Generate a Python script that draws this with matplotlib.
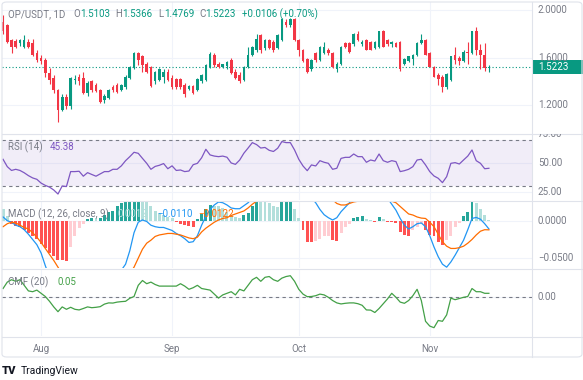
import numpy as np
import pandas as pd
import matplotlib
matplotlib.use('Agg')
import matplotlib.pyplot as plt
import matplotlib.dates as mdates
from matplotlib.patches import Rectangle, FancyBboxPatch
from matplotlib.lines import Line2D
from matplotlib.transforms import blended_transform_factory, Bbox, TransformedBbox

plt.rcParams['font.family'] = ['Roboto', 'DejaVu Sans']

# daily candles OP/USDT, 2024-07-23 .. 2024-11-15
dates = pd.date_range('2024-07-23', '2024-11-15', freq='D')
opens = [1.90, 1.87, 1.75, 1.74, 1.72, 1.69, 1.73, 1.72, 1.64, 1.60,
         1.58, 1.47, 1.43, 1.33, 1.16, 1.27, 1.19, 1.41, 1.44, 1.43,
         1.30, 1.40, 1.37, 1.33, 1.24, 1.26, 1.35, 1.37, 1.33, 1.35,
         1.43, 1.51, 1.64, 1.61, 1.55, 1.52, 1.40, 1.41, 1.44, 1.48,
         1.43, 1.42, 1.42, 1.37, 1.34, 1.36, 1.33, 1.40, 1.41, 1.52,
         1.62, 1.55, 1.52, 1.53, 1.58, 1.48, 1.45, 1.41, 1.52, 1.62,
         1.66, 1.79, 1.68, 1.75, 1.73, 1.68, 1.75, 1.90, 1.87, 1.92,
         1.75, 1.66, 1.59, 1.50, 1.64, 1.58, 1.64, 1.66, 1.64, 1.50,
         1.55, 1.72, 1.72, 1.71, 1.80, 1.71, 1.75, 1.73, 1.68, 1.69,
         1.82, 1.75, 1.71, 1.72, 1.73, 1.55, 1.57, 1.59, 1.62, 1.72,
         1.75, 1.64, 1.52, 1.45, 1.44, 1.35, 1.41, 1.62, 1.60, 1.57,
         1.65, 1.64, 1.82, 1.66, 1.62, 1.5103]
highs = [1.96, 1.88, 1.76, 1.76, 1.76, 1.79, 1.76, 1.76, 1.66, 1.62,
         1.60, 1.51, 1.45, 1.34, 1.29, 1.29, 1.44, 1.45, 1.46, 1.48,
         1.40, 1.41, 1.39, 1.34, 1.29, 1.34, 1.37, 1.39, 1.38, 1.45,
         1.53, 1.65, 1.65, 1.62, 1.56, 1.53, 1.49, 1.51, 1.50, 1.50,
         1.45, 1.43, 1.43, 1.39, 1.37, 1.37, 1.43, 1.46, 1.55, 1.65,
         1.64, 1.56, 1.55, 1.57, 1.60, 1.50, 1.48, 1.53, 1.69, 1.70,
         1.80, 1.80, 1.76, 1.76, 1.75, 1.80, 1.93, 1.92, 1.93, 1.93,
         1.76, 1.67, 1.60, 1.59, 1.65, 1.70, 1.73, 1.68, 1.65, 1.56,
         1.70, 1.73, 1.73, 1.81, 1.82, 1.75, 1.76, 1.74, 1.74, 1.82,
         1.83, 1.76, 1.74, 1.73, 1.74, 1.60, 1.61, 1.63, 1.73, 1.80,
         1.76, 1.65, 1.53, 1.47, 1.45, 1.47, 1.61, 1.69, 1.61, 1.66,
         1.73, 1.82, 1.86, 1.71, 1.72, 1.5366]
lows = [1.80, 1.72, 1.64, 1.68, 1.70, 1.68, 1.68, 1.61, 1.56, 1.55,
        1.44, 1.38, 1.30, 1.06, 1.15, 1.17, 1.17, 1.38, 1.37, 1.29,
        1.28, 1.31, 1.31, 1.22, 1.22, 1.25, 1.31, 1.30, 1.32, 1.34,
        1.42, 1.50, 1.54, 1.48, 1.47, 1.35, 1.38, 1.40, 1.39, 1.40,
        1.34, 1.34, 1.34, 1.27, 1.33, 1.29, 1.32, 1.39, 1.40, 1.51,
        1.52, 1.51, 1.51, 1.50, 1.46, 1.42, 1.39, 1.40, 1.51, 1.61,
        1.65, 1.64, 1.66, 1.67, 1.65, 1.67, 1.74, 1.86, 1.86, 1.74,
        1.61, 1.56, 1.47, 1.49, 1.56, 1.57, 1.63, 1.62, 1.51, 1.48,
        1.54, 1.68, 1.64, 1.70, 1.74, 1.70, 1.66, 1.66, 1.67, 1.68,
        1.69, 1.70, 1.69, 1.69, 1.49, 1.54, 1.56, 1.54, 1.61, 1.71,
        1.62, 1.52, 1.44, 1.37, 1.31, 1.34, 1.40, 1.55, 1.54, 1.56,
        1.55, 1.63, 1.62, 1.50, 1.49, 1.4769]
closes = [1.82, 1.73, 1.69, 1.69, 1.75, 1.75, 1.69, 1.62, 1.58, 1.57,
          1.47, 1.41, 1.33, 1.16, 1.27, 1.19, 1.43, 1.42, 1.40, 1.30,
          1.385, 1.33, 1.32, 1.23, 1.28, 1.33, 1.33, 1.31, 1.37, 1.44,
          1.52, 1.64, 1.58, 1.54, 1.48, 1.36, 1.48, 1.50, 1.48, 1.41,
          1.35, 1.35, 1.35, 1.29, 1.36, 1.30, 1.42, 1.45, 1.54, 1.63,
          1.54, 1.52, 1.545, 1.56, 1.47, 1.43, 1.40, 1.52, 1.62, 1.69,
          1.76, 1.66, 1.75, 1.68, 1.66, 1.79, 1.92, 1.87, 1.92, 1.75,
          1.66, 1.57, 1.48, 1.58, 1.58, 1.69, 1.69, 1.64, 1.52, 1.55,
          1.69, 1.69, 1.65, 1.80, 1.75, 1.73, 1.66, 1.66, 1.73, 1.82,
          1.69, 1.71, 1.73, 1.69, 1.50, 1.59, 1.61, 1.62, 1.72, 1.75,
          1.62, 1.52, 1.44, 1.42, 1.35, 1.46, 1.61, 1.58, 1.57, 1.65,
          1.64, 1.82, 1.66, 1.62, 1.5103, 1.5223]

rsi = [53.2, 46.8, 43.5, 44.5, 43.5, 41.5, 39.0, 37.0, 35.8, 32.5,
       30.5, 29.0, 26.5, 23.0, 30.0, 29.5, 42.5, 42.5, 42.8, 38.5,
       41.6, 40.0, 38.5, 40.5, 42.5, 42.5, 44.5, 44.5, 47.5, 52.0,
       55.5, 59.3, 58.4, 54.0, 49.7, 44.5, 47.0, 48.0, 49.5, 45.0,
       47.5, 43.5, 43.9, 42.5, 43.0, 48.5, 49.7, 54.5, 61.9, 57.0,
       56.0, 55.5, 56.0, 55.0, 50.0, 48.8, 52.5, 58.5, 63.0, 67.7,
       66.0, 63.0, 63.5, 61.0, 60.0, 62.8, 68.6, 67.7, 67.7, 61.3,
       53.2, 47.4, 43.3, 48.3, 47.4, 52.0, 50.6, 49.7, 44.5, 45.4,
       54.0, 54.9, 54.9, 57.8, 55.5, 55.5, 50.6, 52.6, 51.7, 57.8,
       52.0, 50.6, 52.0, 51.2, 42.5, 43.3, 44.5, 46.8, 52.6, 53.2,
       48.3, 42.5, 38.7, 36.7, 32.9, 38.1, 49.7, 50.3, 49.1, 52.6,
       56.0, 61.3, 52.0, 49.7, 45.0, 45.38]

macd = [0.005, 0.000, -0.002, -0.006, -0.008, -0.012, -0.018, -0.025, -0.032, -0.043,
        -0.060, -0.075, -0.090, -0.110, -0.118, -0.125, -0.120, -0.112, -0.104, -0.100,
        -0.094, -0.090, -0.088, -0.088, -0.084, -0.078, -0.074, -0.068, -0.066, -0.058,
        -0.040, -0.016, -0.002, 0.001, -0.001, -0.006, -0.008, -0.009, -0.009, -0.011,
        -0.013, -0.017, -0.020, -0.024, -0.029, -0.028, -0.020, -0.006, 0.006, 0.015,
        0.021, 0.025, 0.024, 0.021, 0.017, 0.016, 0.016, 0.020, 0.024, 0.030,
        0.038, 0.042, 0.045, 0.047, 0.047, 0.050, 0.060, 0.066, 0.072, 0.068,
        0.058, 0.046, 0.034, 0.030, 0.024, 0.015, 0.008, 0.004, 0.001, 0.004,
        0.012, 0.018, 0.024, 0.029, 0.032, 0.034, 0.034, 0.033, 0.033, 0.036,
        0.035, 0.030, 0.022, 0.014, 0.003, -0.006, -0.011, -0.008, -0.004, -0.003,
        -0.008, -0.020, -0.035, -0.048, -0.058, -0.062, -0.055, -0.046, -0.036, -0.026,
        -0.012, 0.003, 0.0044, 0.002, -0.004, -0.011]
signal = [-0.008, -0.004, -0.002, -0.003, -0.006, -0.009, -0.011, -0.016, -0.022, -0.029,
          -0.037, -0.045, -0.053, -0.062, -0.071, -0.079, -0.085, -0.089, -0.092, -0.094,
          -0.094, -0.094, -0.093, -0.092, -0.091, -0.089, -0.086, -0.083, -0.080, -0.076,
          -0.070, -0.062, -0.050, -0.038, -0.030, -0.026, -0.021, -0.019, -0.018, -0.017,
          -0.017, -0.018, -0.019, -0.021, -0.023, -0.024, -0.022, -0.015, -0.010, -0.006,
          -0.002, 0.001, 0.003, 0.004, 0.007, 0.009, 0.011, 0.013, 0.017, 0.022,
          0.026, 0.031, 0.035, 0.038, 0.041, 0.043, 0.046, 0.050, 0.054, 0.056,
          0.057, 0.056, 0.053, 0.049, 0.045, 0.040, 0.036, 0.032, 0.028, 0.023,
          0.021, 0.021, 0.023, 0.025, 0.026, 0.027, 0.028, 0.028, 0.028, 0.028,
          0.028, 0.027, 0.026, 0.024, 0.019, 0.014, 0.009, 0.0076, 0.005, 0.0035,
          0.003, -0.002, -0.008, -0.018, -0.028, -0.034, -0.037, -0.037, -0.036, -0.034,
          -0.030, -0.025, -0.019, -0.014, -0.012, -0.0122]
hist = [0.015, 0.006, -0.004, -0.007, -0.009, -0.012, -0.016, -0.020, -0.025, -0.031,
        -0.037, -0.043, -0.047, -0.052, -0.053, -0.054, -0.035, -0.021, -0.010, -0.004,
        0.002, 0.004, 0.003, 0.004, 0.008, 0.011, 0.013, 0.019, 0.023, 0.030,
        0.036, 0.046, 0.048, 0.039, 0.029, 0.020, 0.013, 0.010, 0.008, 0.005,
        0.003, -0.002, -0.004, -0.006, -0.007, -0.008, 0.002, 0.009, 0.016, 0.021,
        0.020, 0.019, 0.017, 0.012, 0.008, 0.005, 0.004, 0.007, 0.010, 0.019,
        0.027, 0.026, 0.025, 0.023, 0.020, 0.018, 0.028, 0.029, 0.031, 0.016,
        0.003, -0.013, -0.028, -0.029, -0.027, -0.024, -0.021, -0.020, -0.026, -0.027,
        -0.017, -0.008, -0.004, 0.003, 0.0045, 0.006, 0.002, 0.001, -0.0013, 0.005,
        0.002, -0.0013, -0.002, -0.003, -0.015, -0.019, -0.021, -0.012, -0.008, -0.004,
        -0.012, -0.019, -0.021, -0.028, -0.033, -0.026, -0.021, -0.008, -0.003, 0.006,
        0.012, 0.027, 0.024, 0.016, 0.0076, 0.0012]

cmf = [0.11, 0.19, 0.22, 0.20, 0.22, 0.15, 0.08, 0.07, 0.09, 0.05,
       0.01, -0.05, -0.12, -0.18, -0.12, -0.15, -0.125, -0.15, -0.158, -0.14,
       -0.12, -0.13, -0.125, -0.117, -0.085, -0.07, -0.072, -0.06, -0.054, -0.05,
       -0.012, 0.01, 0.15, 0.21, 0.17, 0.19, 0.16, 0.14, 0.14, 0.14,
       0.14, 0.14, 0.17, 0.14, 0.10, 0.12, 0.15, 0.11, 0.10, 0.09,
       0.04, -0.01, 0.03, 0.05, 0.07, 0.03, 0.10, 0.08, 0.15, 0.22,
       0.25, 0.20, 0.25, 0.26, 0.22, 0.20, 0.24, 0.26, 0.27, 0.20,
       0.10, 0.04, 0.008, 0.01, 0.02, 0.04, 0.03, 0.00, -0.04, -0.07,
       -0.083, -0.075, -0.07, -0.07, -0.08, -0.10, -0.158, -0.16, -0.19, -0.14,
       -0.08, -0.02, 0.05, 0.00, -0.06, -0.075, -0.04, 0.02, 0.10, -0.04,
       -0.30, -0.36, -0.38, -0.29, -0.30, -0.22, -0.01, -0.03, -0.015, 0.00,
       0.01, 0.11, 0.07, 0.07, 0.05, 0.05]

price_ticks = [1.2, 1.6, 2.0]
rsi_ticks = [25, 50, 75]
macd_ticks = [-0.05, 0.0]
cmf_ticks = [0.0]

GREEN, RED = '#089981', '#f23645'
GRID, SEP, TXT = '#f0f3fa', '#e0e3eb', '#787b86'

W, H = 583, 380
fig = plt.figure(figsize=(W / 100, H / 100), dpi=100)


def rect(x0, y0, x1, y1):
    return [x0 / W, 1 - y1 / H, (x1 - x0) / W, (y1 - y0) / H]


ax_p = fig.add_axes(rect(2, 2, 532, 133))
ax_r = fig.add_axes(rect(2, 134, 532, 200), sharex=ax_p)
ax_m = fig.add_axes(rect(2, 201, 532, 268), sharex=ax_p)
ax_c = fig.add_axes(rect(2, 269, 532, 336), sharex=ax_p)

x = mdates.date2num(dates)
o, h, l, c = map(np.array, (opens, highs, lows, closes))
up = c >= o
col = np.where(up, GREEN, RED)

# candles
ax_p.vlines(x, l, h, colors=col, lw=0.8, zorder=3)
body = np.maximum(np.abs(c - o), 0.004)
ax_p.bar(x, body, bottom=np.minimum(o, c), width=0.62, color=col, zorder=4)
ax_p.axhline(c[-1], color=GREEN, lw=0.8, ls=(0, (1, 2)), zorder=2)
ax_p.set_ylim(0.966, 2.067)
ax_p.set_yticks(price_ticks)

# RSI
ax_r.axhspan(30, 70, color='#7e57c2', alpha=0.1, lw=0)
for lev in (30, 70):
    ax_r.axhline(lev, color=TXT, lw=0.8, ls=(0, (3, 3)))
ax_r.plot(x, rsi, color='#7e57c2', lw=0.9)
ax_r.set_ylim(17.8, 75.2)
ax_r.set_yticks(rsi_ticks)

# MACD
hv = np.array(hist)
prev = np.concatenate([[hv[0] + 0.001], hv[:-1]])
hcol = np.where(hv >= 0, np.where(hv > prev, '#26a69a', '#b2dfdb'),
                np.where(hv < prev, '#ff5252', '#ffcdd2'))
ax_m.bar(x, hv, width=0.7, color=hcol, zorder=2)
ax_m.plot(x, macd, color='#2196f3', lw=0.9, zorder=3)
ax_m.plot(x, signal, color='#ff6d00', lw=0.9, zorder=3)
ax_m.set_ylim(-0.0631, 0.0263)
ax_m.set_yticks(macd_ticks)

# CMF
ax_c.axhline(0, color=TXT, lw=0.8, ls=(0, (3, 3)))
ax_c.plot(x, cmf, color='#43a047', lw=0.9)
ax_c.set_ylim(-0.484, 0.354)
ax_c.set_yticks(cmf_ticks)

for ax in (ax_p, ax_r, ax_m, ax_c):
    for s in ax.spines.values():
        s.set_visible(False)
    ax.set_facecolor('none')
    ax.xaxis.set_major_locator(mdates.MonthLocator())
    ax.grid(True, color=GRID, lw=0.8, zorder=0)
    ax.set_axisbelow(True)
    ax.tick_params(left=False, labelleft=False, bottom=False, labelbottom=False)

ax_p.set_xlim(x[0] - 0.25, x[0] + 125.2)
ax_c.xaxis.set_major_formatter(mdates.DateFormatter('%b'))
ax_c.tick_params(axis='x', labelbottom=True, pad=2.5, labelsize=7, labelcolor=TXT)


def scale_labels(ax, values, fmt, y0, y1):
    tr = blended_transform_factory(fig.transFigure, ax.transData)
    clip = TransformedBbox(Bbox([[532 / W, 1 - y1 / H], [1, 1 - y0 / H]]), fig.transFigure)
    for v in values:
        s = fmt.format(v).replace('-', '\u2212')
        t = fig.text(538 / W, v, s, transform=tr, fontsize=7, color=TXT, va='center')
        t.set_clip_box(clip)
        t.set_clip_on(True)


scale_labels(ax_p, price_ticks, '{:.4f}', 2, 133)
scale_labels(ax_r, rsi_ticks, '{:.2f}', 134, 200)
scale_labels(ax_m, macd_ticks, '{:.4f}', 201, 268)
scale_labels(ax_c, cmf_ticks, '{:.2f}', 269, 336)

# last price tag
trp = blended_transform_factory(fig.transFigure, ax_p.transData)
tag_h = 14 / 119
fig.add_artist(Rectangle((532 / W, c[-1] - tag_h / 2), (W - 532) / W, tag_h,
                         transform=trp, color=GREEN, lw=0))
fig.text(538 / W, c[-1], '{:.4f}'.format(c[-1]), transform=trp, fontsize=7,
         color='white', va='center')

# frame and separators
fig.add_artist(FancyBboxPatch((2 / W, 1 - 357 / H), 580 / W, 355 / H,
                              boxstyle='round,pad=0,rounding_size=0.008',
                              transform=fig.transFigure, fill=False,
                              edgecolor=SEP, lw=0.8))
for yy in (133.5, 200.5, 268.5, 336.5):
    fig.add_artist(Line2D([2 / W, 582 / W], [1 - yy / H] * 2, color=SEP, lw=0.8))
fig.add_artist(Line2D([532 / W] * 2, [1 - 2 / H, 1 - 357 / H], color=SEP, lw=0.8))


def legend(parts, y):
    for xx, s, cl in parts:
        fig.text(xx / W, 1 - y / H, s, fontsize=7, color=cl, va='center')


legend([(8, 'OP/USDT, 1D', TXT), (73, 'O', TXT), (80, '1.5103', GREEN),
        (115, 'H', TXT), (122, '1.5366', GREEN), (158, 'L', TXT),
        (164, '1.4769', GREEN), (199, 'C', TXT), (205, '1.5223', GREEN),
        (242, '+0.0106 (+0.70%)', GREEN)], 14)
legend([(8, 'RSI (14)', TXT), (50, '45.38', '#7e57c2')], 147)
legend([(8, 'MACD (12, 26, close, 9)', TXT), (117, '0.0012', '#b2dfdb'),
        (157, '\u22120.0110', '#2196f3'), (198, '\u22120.0122', '#ff6d00')], 214)
legend([(8, 'CMF (20)', TXT), (57, '0.05', '#43a047')], 282)

fig.text(2 / W, 1 - 371 / H, 'TV', fontsize=8, fontweight='heavy', color='#131722', va='center')
fig.text(21 / W, 1 - 371 / H, 'TradingView', fontsize=7.5, color='#131722', va='center')

fig.savefig('out.png', dpi=100)
